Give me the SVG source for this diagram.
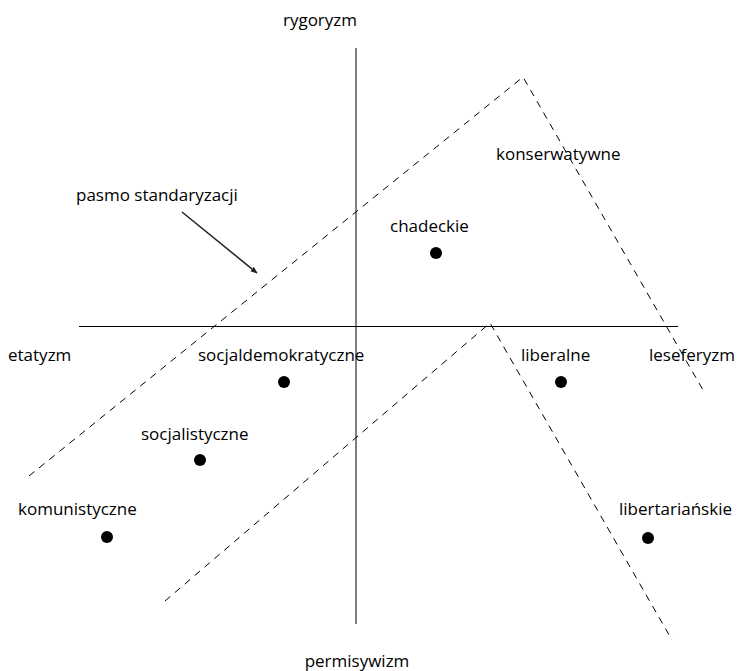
<svg xmlns="http://www.w3.org/2000/svg" width="750" height="671" viewBox="0 0 750 671">
<defs>
<style>
.lbl{font-family:"Open Sans","Liberation Sans",sans-serif;font-size:17px;fill:#000}
.axis{stroke:#000;stroke-width:1;fill:none}
.dash{stroke:#000;stroke-width:1;fill:none;stroke-dasharray:7,6}
.dot{fill:#000}
</style>
<marker id="ah" viewBox="0 0 10 10" refX="9" refY="5" markerWidth="7" markerHeight="7" orient="auto" markerUnits="userSpaceOnUse">
<path d="M0,1 L10,5 L0,9 z" fill="#231f20"/>
</marker>
</defs>
<rect width="750" height="671" fill="#fff"/>
<g id="connectors">
<line class="axis" x1="356" y1="48" x2="356" y2="624"/>
<line class="axis" x1="79" y1="326.5" x2="678" y2="326.5"/>
<polyline class="dash" points="29,476 523,77 703,390"/>
<polyline class="dash" points="165,601 490,323 672,640"/>
<line x1="182" y1="212" x2="257" y2="273" stroke="#231f20" stroke-width="1.5" marker-end="url(#ah)"/>
</g>
<g id="rygoryzm"><text class="lbl" x="320" y="26" text-anchor="middle">rygoryzm</text></g>
<g id="permisywizm"><text class="lbl" x="357" y="667" text-anchor="middle">permisywizm</text></g>
<g id="etatyzm"><text class="lbl" x="8" y="361">etatyzm</text></g>
<g id="leseferyzm"><text class="lbl" x="649" y="361">leseferyzm</text></g>
<g id="pasmo"><text class="lbl" x="76" y="201">pasmo standaryzacji</text></g>
<g id="konserwatywne"><text class="lbl" x="496" y="160">konserwatywne</text></g>
<g id="chadeckie"><text class="lbl" x="390" y="232">chadeckie</text><circle class="dot" cx="436" cy="253" r="6"/></g>
<g id="socjaldemokratyczne"><text class="lbl" x="198" y="361">socjaldemokratyczne</text><circle class="dot" cx="284" cy="382" r="6"/></g>
<g id="liberalne"><text class="lbl" x="521" y="361">liberalne</text><circle class="dot" cx="561" cy="382" r="6"/></g>
<g id="socjalistyczne"><text class="lbl" x="141" y="440">socjalistyczne</text><circle class="dot" cx="200" cy="460" r="6"/></g>
<g id="komunistyczne"><text class="lbl" x="18" y="515">komunistyczne</text><circle class="dot" cx="107" cy="537" r="6"/></g>
<g id="libertarianskie"><text class="lbl" x="619" y="515">libertariańskie</text><circle class="dot" cx="648" cy="538" r="6"/></g>
</svg>
